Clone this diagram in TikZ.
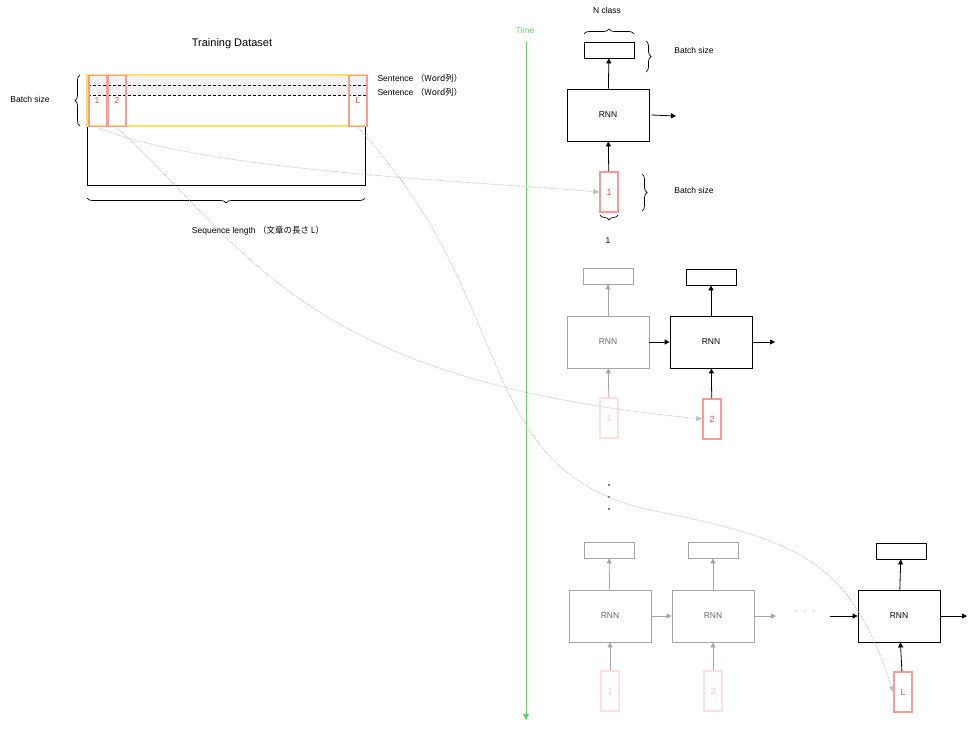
\documentclass[tikz,border=0pt]{standalone}
\usepackage{fontspec}
\setmainfont{Liberation Sans}
\newfontfamily\cjk{Noto Sans CJK JP}
\usetikzlibrary{decorations.pathreplacing,arrows.meta}
\begin{document}
\begin{tikzpicture}[x=1pt,y=-1pt,font=\fontsize{8.5}{10}\selectfont,
 box/.style={draw,line width=0.8pt,inner sep=0pt},
 rnn/.style={box,minimum width=82pt,minimum height=52pt},
 outb/.style={box,minimum width=50pt,minimum height=16pt},
 inb/.style={draw=red!40,line width=1.5pt,inner sep=0pt,minimum width=18pt,minimum height=40pt,text=red!75,font=\fontsize{9}{10}\selectfont},
 ar/.style={-{Triangle[length=5pt,width=5pt]},line width=0.8pt},
 gr/.style={draw=black!35,text=black!60},
 faint/.style={opacity=0.3},
 curv/.style={draw=black!25,densely dotted,line width=0.8pt,-{Triangle[length=6pt,width=5pt]}},
 br/.style={decorate,decoration={brace,amplitude=5pt},line width=0.7pt}]
\useasboundingbox (0,0) rectangle (973,730);
% dataset
\fill[black!5] (87,75) rectangle (367,95);
\draw[line width=0.7pt] (87,126) rectangle (365,185);
\draw[densely dashed,line width=0.6pt] (88,85) -- (366,85) (88,95) -- (366,95);
\draw[draw=yellow!70!orange!60,line width=1.5pt] (87,75) rectangle (367,126);
\node[inb,minimum height=51pt,anchor=north west] (d1) at (88,75) {};
\node[red!75] at (97,101) {1};
\node[inb,minimum height=51pt,anchor=north west] (d2) at (107,75) {};
\node[red!75] at (117,101) {2};
\node[inb,minimum height=51pt,anchor=north west] (dL) at (348,75) {};
\node[red!75] at (358,101) {L};
\node[font=\fontsize{11}{13}\selectfont] (title) at (232,44) {Training Dataset};
\draw[br] (80,126) -- (80,75);
\node (bs0) at (30,99) {Batch size};
\node[anchor=west] (s1) at (374,78) {Sentence \cjk{（Word列）}};
\node[anchor=west] (s2) at (374,92) {Sentence \cjk{（Word列）}};
\draw[br] (365,198) -- (87,198);
\node (sl) at (258,231) {Sequence length \cjk{（文章の長さ L）}};
% time
\draw[green!60!black!50!green,draw=green!70!black!60,line width=1pt,-{Triangle[length=6pt,width=6pt]}] (526,42) -- (526,720);
\node[text=green!70!black!60] (time) at (525,30) {Time};
% row1
\node[rnn] (r1) at (608,115) {RNN};
\node[outb] (o1) at (609,50) {};
\node[inb] (i1) at (609,192) {1};
\coordinate (r1e) at (676,116);
\draw[ar] (r1) -- (o1);
\draw[ar] (i1) -- (r1);
\draw[ar] (r1.east) ++(2,0) -- (r1e);
\draw[br] (584,34) -- (634,34);
\node (nc) at (607,10) {N class};
\draw[br] (646,41) -- (646,72);
\node (bs1) at (694,50) {Batch size};
\draw[br] (642,174) -- (642,211);
\node (bs2) at (694,190) {Batch size};
\draw[br] (618,215) -- (600,215);
\node (one) at (608,241) {1};
% row2
\node[rnn,gr] (r2a) at (608,342) {RNN};
\node[outb,gr] (o2a) at (608,276) {};
\node[inb,faint] (i2a) at (609,418) {1};
\draw[ar,black!35] (i2a) -- (r2a);
\draw[ar,black!35] (r2a) -- (o2a);
\node[rnn] (r2b) at (711,342) {RNN};
\node[outb] (o2b) at (711,277) {};
\node[inb] (i2b) at (712,419) {2};
\coordinate (r2e) at (775,342);
\draw[ar] (r2a) -- (r2b);
\draw[ar] (i2b) -- (r2b);
\draw[ar] (r2b) -- (o2b);
\draw[ar] (r2b) -- (r2e);
% dots
\foreach \y in {485,497,509} \fill (609,\y) circle (0.9);
% row3
\node[rnn,gr] (r3a) at (610,616) {RNN};
\node[outb,gr] (o3a) at (609,550) {};
\node[inb,faint] (i3a) at (610,691) {1};
\node[rnn,gr] (r3b) at (713,616) {RNN};
\node[outb,gr] (o3b) at (713,550) {};
\node[inb,faint] (i3b) at (713,691) {2};
\draw[ar,black!35] (i3a) -- (r3a);
\draw[ar,black!35] (r3a) -- (o3a);
\draw[ar,black!35] (i3b) -- (r3b);
\draw[ar,black!35] (r3b) -- (o3b);
\draw[ar,black!35] (r3a) -- (r3b);
\coordinate (g3) at (776,616);
\draw[ar,black!35] (r3b) -- (g3);
\node (dd) at (805,612) {$\cdot\ \ \cdot\ \ \cdot$};
\node[rnn] (r3c) at (899,616) {RNN};
\node[outb] (o3c) at (901,551) {};
\node[inb] (i3c) at (903,692) {L};
\coordinate (c3s) at (830,616);
\coordinate (r3e) at (967,616);
\draw[ar] (c3s) -- (r3c);
\draw[ar] (i3c) -- (r3c);
\draw[ar] (r3c) -- (o3c);
\draw[ar] (r3c) -- (r3e);
% curves
\draw[curv] (d1.south) .. controls (200,170) and (450,180) .. (i1.west);
\draw[curv] (d2.south) .. controls (250,250) and (300,380) .. (i2b.west);
\draw[curv] (dL.south) .. controls (520,300) and (470,470) .. (650,510) .. controls (800,540) and (850,560) .. (i3c.west);
\end{tikzpicture}
\end{document}
